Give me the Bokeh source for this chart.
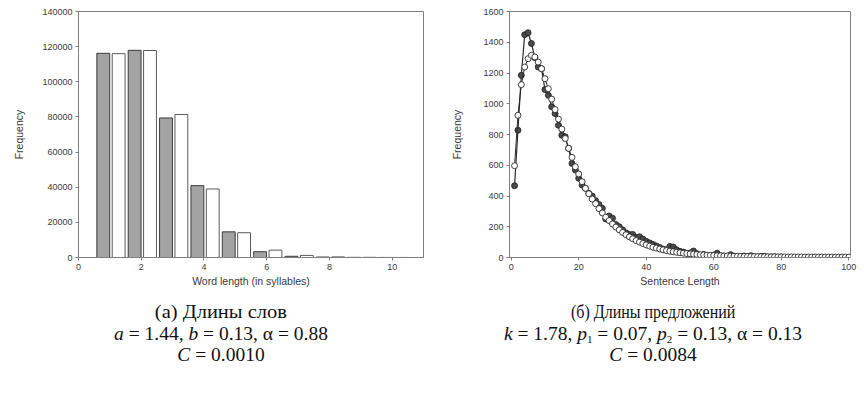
from bokeh.plotting import figure
from bokeh.layouts import column, row
from bokeh.models import ColumnDataSource, Div, Range1d, FixedTicker
from bokeh.transform import dodge
from bokeh.embed import file_html
from bokeh.resources import INLINE

# ---------------- data ----------------
word_lengths = [1, 2, 3, 4, 5, 6, 7, 8, 9, 10]
word_observed = [116200, 117900, 79400, 40900, 14600, 3300, 700, 250, 80, 20]
word_fitted = [116000, 117800, 81400, 39000, 14100, 4200, 1200, 350, 90, 20]

sent_obs_x = list(range(1, 81))
sent_observed = [467, 828, 1185, 1449, 1462, 1392, 1300, 1239, 1228, 1092,
                 1055, 980, 936, 860, 795, 785, 710, 612, 569, 515,
                 471, 450, 417, 400, 370, 345, 320, 250, 270, 255,
                 215, 200, 180, 160, 150, 150, 130, 135, 120, 105,
                 95, 85, 75, 65, 55, 50, 72, 68, 50, 40,
                 35, 28, 30, 42, 25, 15, 20, 14, 12, 16,
                 28, 12, 10, 8, 18, 9, 7, 6, 10, 5,
                 12, 5, 4, 6, 8, 3, 4, 5, 2, 3]

sent_fit_x = list(range(1, 101))
sent_fitted = [597, 925, 1124, 1239, 1293, 1315, 1304, 1271, 1228, 1163,
               1098, 1030, 962, 900, 835, 774, 710, 651, 590, 543,
               493, 450, 415, 380, 350, 318, 290, 262, 240, 218,
               198, 180, 163, 148, 134, 122, 110, 100, 91, 82,
               74, 67, 61, 55, 50, 45, 41, 37, 34, 31,
               28, 26, 24, 22, 20, 18, 17, 15.5, 14, 13,
               12, 11, 10, 9.5, 9, 8.5, 8, 7.5, 7, 6.5,
               6.2, 6, 5.6, 5.3, 5, 4.8, 4.6, 4.4, 4.2, 4,
               3.8, 3.7, 3.6, 3.5, 3.4, 3.3, 3.2, 3.1, 3, 3,
               2.9, 2.8, 2.8, 2.7, 2.6, 2.6, 2.5, 2.5, 2.4, 2.4]

word_ticks_x = [0, 2, 4, 6, 8, 10]
word_ticks_y = [0, 20000, 40000, 60000, 80000, 100000, 120000, 140000]
sent_ticks_x = [0, 20, 40, 60, 80, 100]
sent_ticks_y = [0, 200, 400, 600, 800, 1000, 1200, 1400, 1600]

SANS = "Liberation Sans"
TXT = "#3a3a3a"


def style(p, xt, yt, xlabel, ylab_standoff):
    p.outline_line_color = "#808080"
    p.outline_line_width = 1
    p.xgrid.visible = False
    p.ygrid.visible = False
    p.xaxis.axis_label = xlabel
    p.yaxis.axis_label = "Frequency"
    p.xaxis.ticker = FixedTicker(ticks=xt)
    p.yaxis.ticker = FixedTicker(ticks=yt)
    for ax in (p.xaxis[0], p.yaxis[0]):
        ax.axis_line_color = "#808080"
        ax.major_tick_line_color = "#808080"
        ax.major_tick_out = 3
        ax.major_tick_in = 0
        ax.minor_tick_line_color = None
        ax.major_label_text_font = SANS
        ax.major_label_text_font_size = "9px"
        ax.major_label_text_color = TXT
        ax.axis_label_text_font = SANS
        ax.axis_label_text_font_size = "10.5px"
        ax.axis_label_text_font_style = "normal"
        ax.axis_label_text_color = TXT
    p.xaxis.major_label_standoff = 3
    p.xaxis.axis_label_standoff = 2
    p.yaxis.major_label_standoff = 3
    p.yaxis.axis_label_standoff = ylab_standoff
    p.yaxis.major_label_orientation = "horizontal"
    p.yaxis[0].formatter.use_scientific = False


# ---------------- left: word lengths ----------------
p1 = figure(width=440, height=292, output_backend="svg", toolbar_location=None,
            x_range=Range1d(0, 11), y_range=Range1d(0, 140000),
            min_border_left=78, min_border_right=17, min_border_top=11,
            min_border_bottom=35)
src1 = ColumnDataSource(dict(x=word_lengths, obs=word_observed, fit=word_fitted))
p1.vbar(x=dodge("x", -0.21, range=p1.x_range), top="obs", width=0.41, bottom=0,
        source=src1, fill_color="#a3a3a3", line_color="#3c3c3c", line_width=1)
p1.vbar(x=dodge("x", 0.28, range=p1.x_range), top="fit", width=0.41, bottom=0,
        source=src1, fill_color="white", line_color="#5a5a5a", line_width=1)
style(p1, word_ticks_x, word_ticks_y, "Word length (in syllables)", 14)

# ---------------- right: sentence lengths ----------------
p2 = figure(width=424, height=292, output_backend="svg", toolbar_location=None,
            x_range=Range1d(-0.5, 100.5), y_range=Range1d(0, 1600),
            min_border_left=69, min_border_right=14, min_border_top=11,
            min_border_bottom=35)
src_obs = ColumnDataSource(dict(x=sent_obs_x, y=sent_observed))
src_fit = ColumnDataSource(dict(x=sent_fit_x, y=sent_fitted))
p2.line("x", "y", source=src_obs, line_color="#2a2a2a", line_width=1.2)
p2.scatter("x", "y", source=src_obs, size=6, fill_color="#4a4a4a",
           line_color="#1e1e1e", line_width=0.8)
p2.line("x", "y", source=src_fit, line_color="#2a2a2a", line_width=1)
p2.scatter("x", "y", source=src_fit, size=6, fill_color="white",
           line_color="#2a2a2a", line_width=0.9)
style(p2, sent_ticks_x, sent_ticks_y, "Sentence Length", 17)

# ---------------- captions ----------------
cap_style = ("font-family:'Liberation Serif','Times New Roman',serif;font-size:19.5px;"
             "line-height:21.5px;text-align:center;color:#111;padding-top:4px;white-space:nowrap;")
sub = "<span style=\"font-size:11px;position:relative;top:3px;line-height:0;\">{}</span>"
cond = "<span style=\"display:inline-block;transform:scaleX({});\">{}</span>"

cap1 = Div(width=432, height=95, text=(
    f"<div style=\"{cap_style}width:432px;\">"
    + cond.format(1.05, "(а) Длины слов") + "<br>"
    "<i>a</i> = 1.44, <i>b</i> = 0.13, α = 0.88<br>"
    "<i>C</i> = 0.0010</div>"))
cap2 = Div(width=432, height=95, text=(
    f"<div style=\"{cap_style}width:432px;position:relative;left:-10px;\">"
    + cond.format(0.82, "(б) Длины предложений") + "<br>"
    f"<i>k</i> = 1.78, <i>p</i>{sub.format('1')} = 0.07, <i>p</i>{sub.format('2')} = 0.13, α = 0.13<br>"
    "<i>C</i> = 0.0084</div>"))

layout = column(row(p1, p2), row(cap1, cap2))

open("out.html", "w").write(file_html(layout, INLINE))
